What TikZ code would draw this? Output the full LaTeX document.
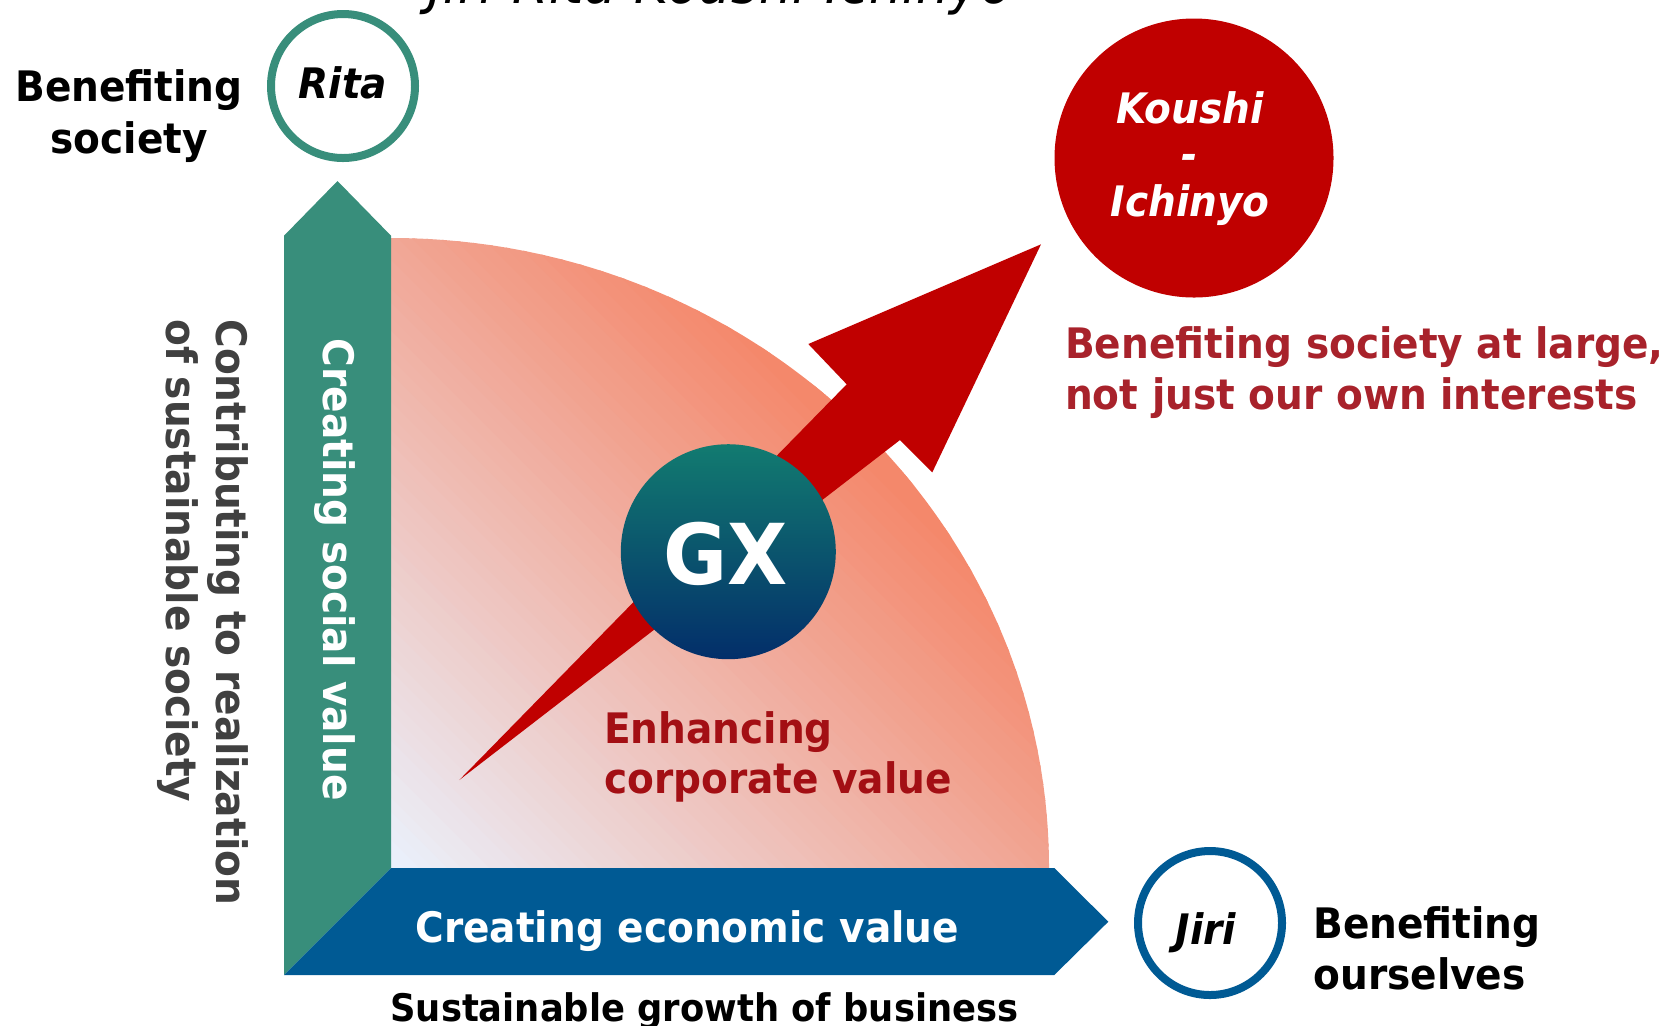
\documentclass[tikz,border=0pt]{standalone}
\usepackage{fontspec}
\setmainfont{DejaVu Sans}[FakeStretch=0.93]
\definecolor{tealc}{HTML}{388E7B}
\definecolor{bluec}{HTML}{005A94}
\definecolor{redc}{HTML}{C00000}
\definecolor{salm}{HTML}{F4886B}
\definecolor{pale}{HTML}{EAF0FB}
\definecolor{gxtop}{HTML}{127B70}
\definecolor{gxmid}{HTML}{0A5568}
\definecolor{gxbot}{HTML}{032E6A}
\definecolor{darkredA}{HTML}{A8222B}
\definecolor{darkredB}{HTML}{A30F14}
\definecolor{grayt}{HTML}{404040}
\begin{document}
\begin{tikzpicture}[x=0.5pt,y=-0.5pt,
  lbl/.style={inner sep=0pt, font=\fontsize{21}{25}\selectfont\bfseries},
  lblit/.style={inner sep=0pt, font=\fontsize{21}{25}\selectfont\bfseries\itshape},
  ringnode/.style={circle, inner sep=0pt, line width=4pt, fill=white}]
\useasboundingbox (0,0) rectangle (1673,1025);
\clip (0,0) rectangle (1673,1025);

% quarter ellipse with diagonal gradient
\begin{scope}
\clip (391,868) -- (1049,868) arc[start angle=0,end angle=-90,x radius=658,y radius=630] -- cycle;
\foreach \i in {0,...,65}{
  \pgfmathsetmacro\da{10*\i}
  \pgfmathsetmacro\db{10*\i+12}
  \pgfmathtruncatemacro\p{min(100,\i*100/62)}
  \fill[salm!\p!pale] ({391+0.7071*\da-707},{868-0.7071*\da-707}) -- ({391+0.7071*\da+707},{868-0.7071*\da+707}) -- ({391+0.7071*\db+707},{868-0.7071*\db+707}) -- ({391+0.7071*\db-707},{868-0.7071*\db-707}) -- cycle;
}
\end{scope}

% green vertical arrow
\fill[tealc] (284,975) -- (284,235.7) -- (337.5,181) -- (391,235.7) -- (391,868) -- cycle;
% blue horizontal arrow
\fill[bluec] (284,975) -- (391,868) -- (1054.3,868) -- (1108.3,921.7) -- (1054.3,975) -- cycle;

% red arrow
\fill[redc] (459.3,780) -- (846.7,384.3) -- (808.3,344) -- (1041,244.3) -- (932.3,472.3) -- (900,440) -- cycle;

% circles
\node[ringnode, draw=tealc, minimum size=72pt] (ritaring) at (343,86) {};
\node[ringnode, draw=bluec, minimum size=72pt] (jiriring) at (1210,923) {};
\node[circle, inner sep=0pt, fill=redc, minimum size=139.5pt] (koushiring) at (1194,158) {};
\node[circle, inner sep=0pt, minimum size=107.5pt, top color=gxtop, middle color=gxmid, bottom color=gxbot] (gxring) at (728.3,551.7) {};

% texts
\node[inner sep=0pt, anchor=base west, font=\fontsize{28}{30}\selectfont\itshape] (title) at (428,3.5) {Jiri-Rita-Koushi-Ichinyo};
\node[lbl, anchor=base] (bs1) at (129,101.7) {Benefiting};
\node[lbl, anchor=base] (bs2) at (129,153.3) {society};
\node[lblit, anchor=base] (ritat) at (343,98.3) {Rita};
\node[lblit, anchor=base, text=white] (k1) at (1190,123) {Koushi};
\node[lblit, anchor=base, text=white] (k2) at (1190,169.6) {-};
\node[lblit, anchor=base, text=white] (k3) at (1190,216.3) {Ichinyo};
\node[lbl, anchor=base west, text=darkredA] (bl1) at (1064.7,358.6) {Benefiting society at large,};
\node[lbl, anchor=base west, text=darkredA] (bl2) at (1064.7,409.5) {not just our own interests};
\node[inner sep=0pt, anchor=base, text=white, font=\fontsize{42}{44}\selectfont\bfseries] (gxt) at (725.3,584) {GX};
\node[lbl, anchor=base west, text=darkredB] (en1) at (603.6,743.5) {Enhancing};
\node[lbl, anchor=base west, text=darkredB] (en2) at (603.6,793) {corporate value};
\node[lbl, anchor=base west, rotate=-90, text=white] (soc) at (323.5,338.5) {Creating social value};
\node[lbl, anchor=base west, rotate=-90, text=grayt] (ct1) at (216,319) {Contributing to realization};
\node[lbl, anchor=base west, rotate=-90, text=grayt] (ct2) at (166,319) {of sustainable society};
\node[lbl, anchor=base west, text=white] (eco) at (415,942) {Creating economic value};
\node[inner sep=0pt, anchor=base west, font=\fontsize{19}{22}\selectfont\bfseries] (sus) at (390,1021) {Sustainable growth of business};
\node[lblit, anchor=base] (jirit) at (1206,944.6) {Jiri};
\node[lbl, anchor=base west] (bo1) at (1313,938) {Benefiting};
\node[lbl, anchor=base west] (bo2) at (1313,989) {ourselves};
\end{tikzpicture}
\end{document}
